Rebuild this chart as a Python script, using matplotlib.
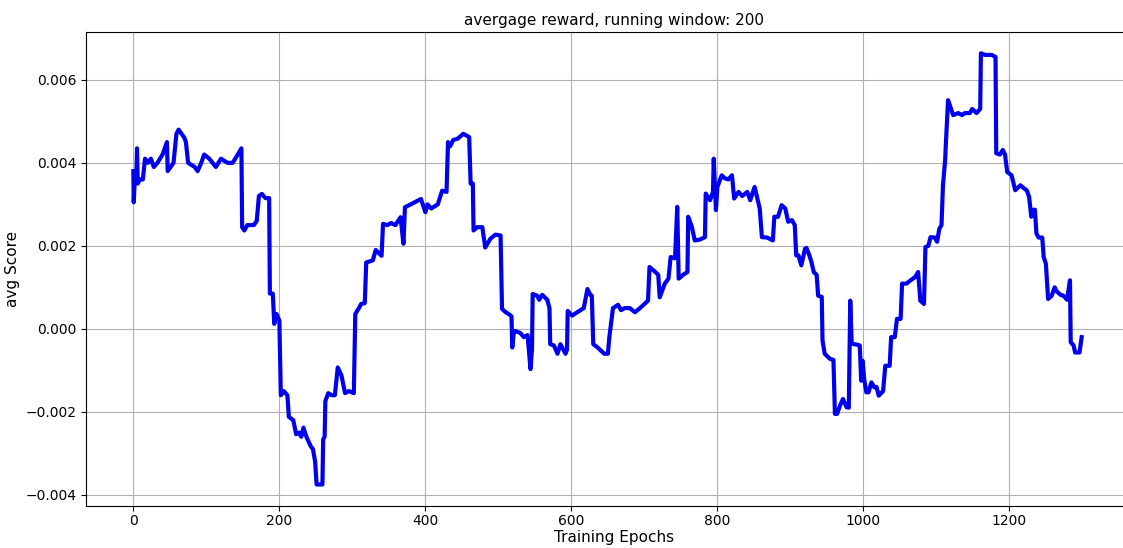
import matplotlib
matplotlib.use('Agg')
import matplotlib.pyplot as plt

# vertices of the running-average reward curve
epochs = [0, 0.5, 2, 4, 5, 6, 9, 13, 16, 20, 24, 28, 33, 40, 46, 47, 51, 55, 59, 62,
          66, 70, 72, 75, 84, 88, 93, 97, 104, 113, 120, 129, 136, 143, 148, 149, 152, 156, 165, 169,
          172, 176, 181, 186, 187, 191, 193, 196, 200, 202, 206, 211, 213, 219, 223, 227, 230, 233, 237, 243,
          246, 249, 251, 259, 260, 262, 263, 267, 272, 276, 280, 285, 290, 295, 302, 304, 309, 312, 317, 319,
          328, 332, 340, 342, 348, 353, 359, 366, 370, 372, 380, 394, 400, 403, 408, 417, 423, 429, 431, 434,
          438, 444, 452, 460, 462, 465, 466, 471, 478, 482, 489, 496, 503, 505, 510, 514, 518, 519, 521, 523,
          530, 535, 540, 544, 546, 547, 553, 556, 560, 567, 570, 571, 576, 581, 585, 592, 594, 595, 601, 608,
          617, 622, 626, 628, 630, 636, 645, 650, 652, 657, 664, 668, 673, 680, 687, 694, 700, 705, 707, 715,
          719, 721, 724, 728, 733, 736, 742, 745, 747, 753, 759, 760, 765, 769, 776, 783, 784, 790, 794, 795,
          798, 800, 806, 810, 815, 820, 823, 829, 834, 841, 845, 851, 858, 861, 868, 876, 878, 883, 888, 893,
          897, 902, 906, 908, 911, 915, 920, 922, 926, 929, 932, 936, 938, 943, 944, 947, 954, 959, 961, 964,
          968, 972, 977, 980, 982, 984, 991, 995, 997, 999, 1001, 1004, 1007, 1011, 1015, 1018, 1021, 1027, 1030, 1036,
          1038, 1043, 1046, 1051, 1053, 1059, 1064, 1071, 1075, 1078, 1083, 1085, 1089, 1092, 1098, 1101, 1104, 1107, 1109, 1112,
          1113, 1116, 1120, 1123, 1130, 1135, 1139, 1146, 1149, 1155, 1160, 1161, 1167, 1171, 1176, 1181, 1182, 1187, 1191, 1194,
          1197, 1203, 1208, 1215, 1219, 1224, 1227, 1230, 1233, 1235, 1237, 1240, 1245, 1247, 1250, 1253, 1258, 1262, 1265, 1270,
          1274, 1279, 1283, 1284, 1288, 1290, 1296, 1299]

avg_score = [0.0038, 0.00305, 0.0036, 0.0036, 0.00435, 0.0035, 0.0036, 0.0036, 0.0041, 0.0040,
             0.0041, 0.0039, 0.0040, 0.0042, 0.0045, 0.0038, 0.0039, 0.0040, 0.0047, 0.0048,
             0.0047, 0.0046, 0.0045, 0.0040, 0.0039, 0.0038, 0.0040, 0.0042, 0.0041, 0.0039,
             0.0041, 0.0040, 0.0040, 0.0042, 0.00435, 0.00245, 0.00237, 0.0025, 0.0025, 0.0026,
             0.0032, 0.00325, 0.00315, 0.00315, 0.00085, 0.00085, 0.00012, 0.00036, 0.0002, -0.0016,
             -0.0015, -0.0016, -0.00212, -0.0022, -0.00254, -0.0025, -0.0026, -0.00238, -0.0026, -0.00283,
             -0.0029, -0.0032, -0.00375, -0.00375, -0.00266, -0.0026, -0.00174, -0.00155, -0.0016, -0.0016,
             -0.00093, -0.00112, -0.00155, -0.0015, -0.00155, 0.00036, 0.0005, 0.0006, 0.00062, 0.0016,
             0.00165, 0.0019, 0.00176, 0.00253, 0.0025, 0.00255, 0.0025, 0.00269, 0.00205, 0.00293,
             0.0030, 0.00313, 0.00281, 0.0030, 0.0029, 0.0030, 0.00333, 0.0033, 0.0045, 0.0044,
             0.00455, 0.00458, 0.0047, 0.00462, 0.0035, 0.0035, 0.00237, 0.00245, 0.00245, 0.00196,
             0.00217, 0.00227, 0.00225, 0.00048, 0.0004, 0.00036, 0.0003, -0.00045, -0.0001, -0.00005,
             -0.0001, -0.0002, -0.00015, -0.00097, -0.0005, 0.00084, 0.0008, 0.0007, 0.00082, 0.0007,
             0.0005, -0.00037, -0.0004, -0.0006, -0.00037, -0.0006, -0.0005, 0.00043, 0.00032, 0.0004,
             0.0005, 0.00096, 0.00082, 0.0008, -0.00037, -0.00045, -0.0006, -0.0006, -0.0002, 0.0005,
             0.00058, 0.00045, 0.0005, 0.0005, 0.0004, 0.0005, 0.0006, 0.00068, 0.00149, 0.00137,
             0.0013, 0.00076, 0.0009, 0.00109, 0.00121, 0.00173, 0.0017, 0.00294, 0.00121, 0.0013,
             0.00137, 0.0027, 0.00246, 0.00213, 0.00215, 0.00221, 0.00326, 0.0031, 0.0033, 0.0041,
             0.00286, 0.00342, 0.0037, 0.00363, 0.0036, 0.0037, 0.00314, 0.0033, 0.0032, 0.0033,
             0.0031, 0.00342, 0.0029, 0.00221, 0.0022, 0.00213, 0.0027, 0.0027, 0.00298, 0.0029,
             0.00258, 0.00262, 0.0025, 0.00177, 0.00177, 0.00153, 0.00193, 0.00195, 0.00177, 0.0016,
             0.00137, 0.0013, 0.0008, 0.00077, -0.00028, -0.0006, -0.00072, -0.00075, -0.00205, -0.00205,
             -0.00185, -0.00169, -0.00189, -0.0019, 0.00068, -0.00036, -0.00038, -0.0004, -0.00125, -0.00077,
             -0.0012, -0.00153, -0.00153, -0.00129, -0.00141, -0.0014, -0.00161, -0.0015, -0.00089, -0.00089,
             -0.0002, -0.0002, 0.00024, 0.00024, 0.00109, 0.00109, 0.00116, 0.00125, 0.00137, 0.00068,
             0.0006, 0.00197, 0.002, 0.00221, 0.0022, 0.0021, 0.00241, 0.0025, 0.00346, 0.00407,
             0.00447, 0.00551, 0.0053, 0.00515, 0.0052, 0.00515, 0.0052, 0.0052, 0.0053, 0.0052,
             0.0053, 0.00664, 0.0066, 0.0066, 0.0066, 0.00655, 0.00423, 0.0042, 0.00431, 0.0042,
             0.00378, 0.0037, 0.00334, 0.00346, 0.0034, 0.00333, 0.00318, 0.0027, 0.00287, 0.00287,
             0.0023, 0.0022, 0.0022, 0.00173, 0.00157, 0.00072, 0.0008, 0.001, 0.0009, 0.00082,
             0.0008, 0.0007, 0.00117, -0.00032, -0.0004, -0.00057, -0.00057, -0.0002]

window = 200

fig = plt.figure(figsize=(11.23, 5.48), dpi=100)
ax = fig.add_axes([0.0765, 0.0766, 0.94, 0.8655])
ax.plot(epochs, avg_score, color='#0000ee', linewidth=3)
ax.set_xlim(-65, 1381)
ax.grid(True)
ax.set_title('avergage reward, running window: ' + str(window), fontsize=11, pad=5)
ax.set_xlabel('Training Epochs', fontsize=11, labelpad=1)
ax.set_ylabel('avg Score', fontsize=11)
ax.tick_params(labelsize=10)
ax.tick_params(axis='x', pad=2.5)
fig.savefig('out.png', dpi=100)
